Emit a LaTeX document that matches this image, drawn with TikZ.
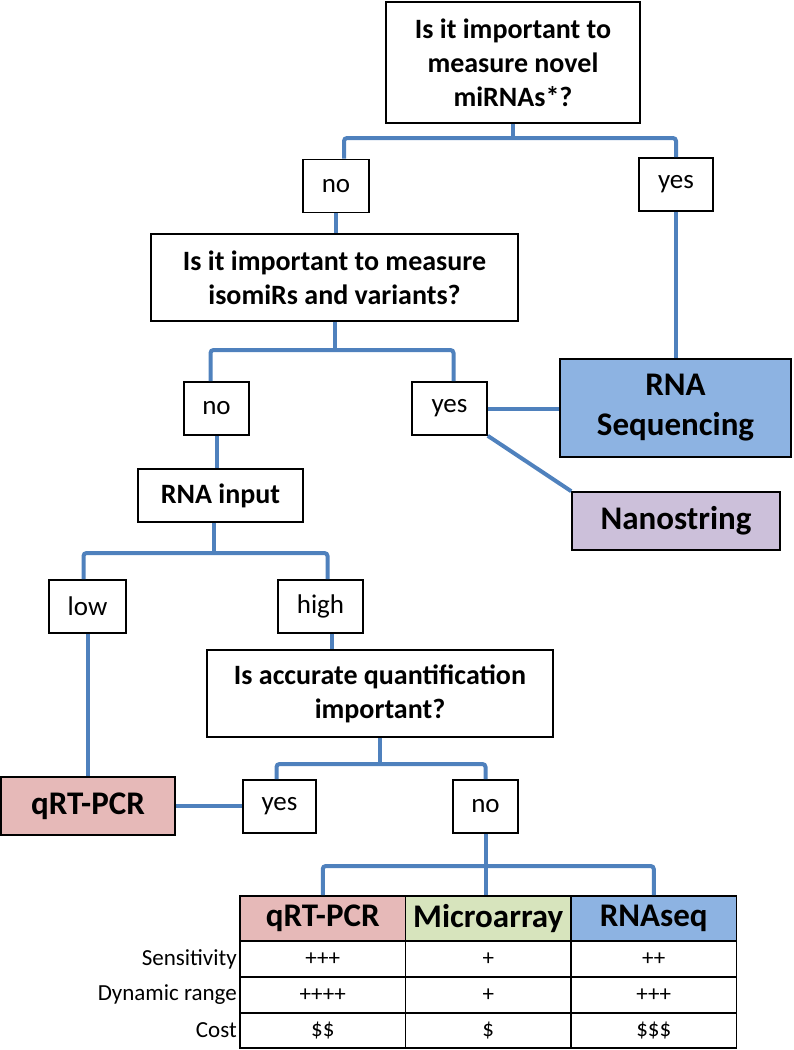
\documentclass[tikz,border=0pt]{standalone}
\usepackage{fontspec}
\setmainfont{Carlito}
\definecolor{linkblue}{HTML}{4F81BD}
\definecolor{seqblue}{HTML}{8DB3E2}
\definecolor{pcrpink}{HTML}{E6B9B8}
\definecolor{nanolilac}{HTML}{CCC0DA}
\definecolor{arraygreen}{HTML}{D7E4BD}
\tikzset{
	qbox/.style={draw, line width=1.6pt, align=center, inner sep=0pt, font=\bfseries\fontsize{28}{34}\selectfont},
	abox/.style={draw, line width=1.6pt, inner sep=0pt, minimum height=53pt, font=\fontsize{27}{32}\selectfont},
	mbox/.style={draw, line width=1.6pt, align=center, inner sep=0pt, font=\bfseries\fontsize{33}{40}\selectfont},
	link/.style={draw=linkblue, line width=4pt, rounded corners=3pt},
	cell/.style={draw, line width=1.6pt, inner sep=0pt, minimum width=165.5pt, minimum height=36pt, font=\fontsize{23}{26}\selectfont},
	hcell/.style={cell, minimum height=45pt, font=\bfseries\fontsize{33}{40}\selectfont},
	rowlab/.style={anchor=east, inner sep=0pt, font=\fontsize{23}{26}\selectfont}
}
\begin{document}
\begin{tikzpicture}[x=1pt, y=-1pt]
		\useasboundingbox (0, 0) rectangle (793, 1050);

		\node[qbox, minimum width=254pt, minimum height=121pt] (q1) at(513, 62.5){Is it important to\\measure novel\\miRNAs*?};
			\node[abox, minimum width=66pt] (no1) at(336, 186){no};
			\node[abox, minimum width=74pt] (yes1) at(676, 184.5){yes};
			\coordinate (bar1) at(0, 138);
			\draw[link](q1.south) to (q1.south |- bar1);
			\draw[link]([xshift=8pt]no1.north) |- (q1.south |- bar1) -| (yes1.north);

		\node[qbox, minimum width=367pt, minimum height=87pt] (q2) at(334.5, 277.5){Is it important to measure\\isomiRs and variants?};
			\draw[link](no1.south) to (no1.south |- q2.north);
			\node[abox, minimum width=65pt] (no2) at(216.5, 408.5){no};
			\node[abox, minimum width=75pt] (yes2) at(449.5, 408.5){yes};
			\coordinate (bar2) at(0, 350);
			\draw[link](q2.south) to (q2.south |- bar2);
			\draw[link]([xshift=-6pt]no2.north) |- (q2.south |- bar2) -| ([xshift=4pt]yes2.north);

		\node[mbox, fill=seqblue, minimum width=231pt, minimum height=98pt] (seq) at(675.5, 408){RNA\\Sequencing};
		\node[mbox, fill=nanolilac, minimum width=208pt, minimum height=58pt] (nano) at(676, 521){Nanostring};
			\draw[link](yes1.south) to (yes1.south |- seq.north);
			\draw[link](yes2.east) to (yes2.east -| seq.west);
			\draw[link](yes2.south east) to (nano.north west);

		\node[qbox, minimum width=165pt, minimum height=53pt] (input) at(220.5, 495.5){RNA input};
			\draw[link](no2.south) to (no2.south |- input.north);
			\node[abox, minimum width=77pt] (low) at(87.5, 606.5){low};
			\node[abox, minimum width=85pt] (high) at(320.5, 606.5){high};
			\coordinate (bar3) at(0, 553);
			\draw[link]([xshift=-7pt]input.south) to ([xshift=-7pt]input.south |- bar3);
			\draw[link]([xshift=-4pt]low.north) |- ([xshift=-7pt]input.south |- bar3) -| ([xshift=7pt]high.north);

		\node[qbox, minimum width=346pt, minimum height=87pt] (q3) at(380, 693.5){Is accurate quantification\\important?};
			\draw[link]([xshift=11pt]high.south) to ([xshift=11pt]high.south |- q3.north);
			\node[abox, minimum width=73pt] (yes3) at(279.5, 806.5){yes};
			\node[abox, minimum width=65pt] (no3) at(485.5, 806.5){no};
			\coordinate (bar4) at(0, 764);
			\draw[link](q3.south) to (q3.south |- bar4);
			\draw[link]([xshift=-3pt]yes3.north) |- (q3.south |- bar4) -| (no3.north);

		\node[mbox, fill=pcrpink, minimum width=174pt, minimum height=58pt] (pcr) at(88, 806){qRT-PCR};
			\draw[link](low.south) to (low.south |- pcr.north);
			\draw[link](pcr.east) to (pcr.east -| yes3.west);

		%%%%%%%%%%%%%%%%%%%%%%%%%%%%
		\node[hcell, fill=pcrpink] (hpcr) at(322.75, 918.5){qRT-PCR};
		\node[hcell, fill=arraygreen] (harray) at(488.25, 918.5){Microarray};
		\node[hcell, fill=seqblue] (hseq) at(653.75, 918.5){RNAseq};
			\coordinate (bar5) at(0, 866);
			\draw[link](no3.south) to (no3.south |- harray.north);
			\draw[link](hpcr.north) |- (no3.south |- bar5) -| (hseq.north);

		\node[rowlab] (lsens) at(237, 959){Sensitivity};
			\node[cell] (pcrsens) at(322.75, 959){+++};
			\node[cell] (arraysens) at(488.25, 959){+};
			\node[cell] (seqsens) at(653.75, 959){++};
		\node[rowlab] (lrange) at(237, 995){Dynamic range};
			\node[cell] (pcrrange) at(322.75, 995){++++};
			\node[cell] (arrayrange) at(488.25, 995){+};
			\node[cell] (seqrange) at(653.75, 995){+++};
		\node[rowlab] (lcost) at(237, 1030.5){Cost};
			\node[cell, minimum height=35pt] (pcrcost) at(322.75, 1030.5){\$\$};
			\node[cell, minimum height=35pt] (arraycost) at(488.25, 1030.5){\$};
			\node[cell, minimum height=35pt] (seqcost) at(653.75, 1030.5){\$\$\$};
\end{tikzpicture}
\end{document}
